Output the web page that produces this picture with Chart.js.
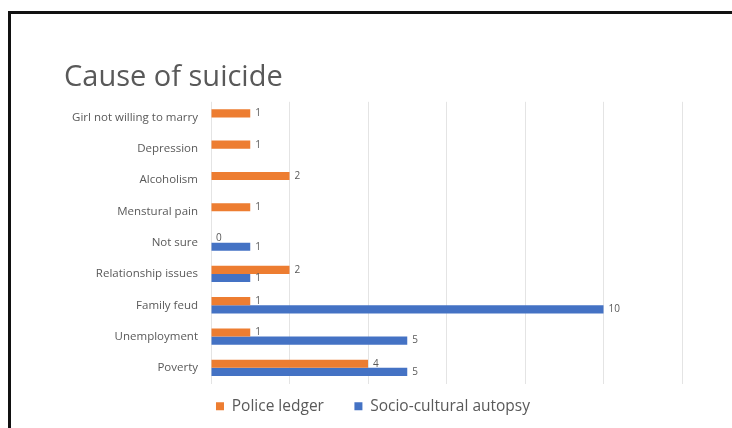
<!DOCTYPE html>
<html>
<head>
<meta charset="utf-8">
<script src="https://cdn.jsdelivr.net/npm/chart.js@4.4.0/dist/chart.umd.min.js"></script>
<style>
  html, body { margin: 0; padding: 0; background: #fff; overflow: hidden; }
  .frame {
    position: absolute; left: 8px; top: 11px;
    width: 740px; height: 430px;
    border: 3px solid #111;
    background: #fff;
  }
  canvas { display: block; }
</style>
</head>
<body>
<div class="frame">
  <canvas id="chart" width="721" height="414"></canvas>
</div>
<script>
// categories, top to bottom as in the picture
var causes = ['Girl not willing to marry', 'Depression', 'Alcoholism', 'Menstural pain', 'Not sure',
  'Relationship issues', 'Family feud', 'Unemployment', 'Poverty'];

// values
var policeLedger = [1, 1, 2, 1, 0, 2, 1, 1, 4];
var socioCultural = [null, null, null, null, 1, 1, 10, 5, 5];

var seriesNames = ['Police ledger', 'Socio-cultural autopsy'];
var xTicks = [0, 12, 2]; // min, max, step

// little plugin to write the value next to each bar (excel style data labels)
var valueLabels = {
  id: 'valueLabels',
  afterDatasetsDraw: function (chart) {
    var ctx = chart.ctx;
    ctx.save();
    ctx.font = '10px "Open Sans"';
    ctx.fillStyle = '#595959';
    ctx.textBaseline = 'middle';
    ctx.textAlign = 'left';
    chart.data.datasets.forEach(function (ds, i) {
      var meta = chart.getDatasetMeta(i);
      meta.data.forEach(function (bar, j) {
        var v = ds.data[j];
        if (v === null || v === undefined) return;
        ctx.fillText(String(v), bar.x + 5, bar.y);
      });
    });
    ctx.restore();
  }
};

var ctx = document.getElementById('chart');

var chart = new Chart(ctx, {
  type: 'bar',
  data: {
    labels: causes,
    datasets: [{
      label: seriesNames[0],
      backgroundColor: '#ED7D31',
      data: policeLedger
    }, {
      label: seriesNames[1],
      backgroundColor: '#4472C4',
      data: socioCultural
    }]
  },
  options: {
    indexAxis: 'y',
    responsive: false,
    animation: false,
    categoryPercentage: 0.52,
    barPercentage: 1,
    layout: { padding: { left: 53, right: 50, top: 46, bottom: 4 } },
    scales: {
      x: {
        min: xTicks[0],
        max: xTicks[1],
        ticks: { display: false, stepSize: xTicks[2] },
        grid: { color: '#e4e4e4', drawTicks: false },
        border: { display: false }
      },
      y: {
        grid: { display: false },
        border: { display: false },
        ticks: {
          color: '#595959',
          font: { family: 'Open Sans', size: 11.5 },
          padding: 5
        },
        afterFit: function (scale) { scale.width = 147; }
      }
    },
    plugins: {
      title: {
        display: true,
        text: 'Cause of suicide',
        align: 'start',
        color: '#595959',
        font: { family: 'Open Sans', size: 29, weight: 'normal' },
        padding: { top: 0, bottom: 7 }
      },
      legend: {
        position: 'bottom',
        labels: {
          color: '#595959',
          font: { family: 'Open Sans', size: 15.5 },
          boxWidth: 8,
          boxHeight: 8,
          padding: 15,
          // wider gap between the two entries, like excel
          generateLabels: function (chart) {
            var items = Chart.defaults.plugins.legend.labels.generateLabels(chart);
            items[0].text = items[0].text + '\u2002\u2002';
            return items;
          }
        }
      },
      tooltip: { enabled: false }
    }
  },
  plugins: [valueLabels]
});
</script>
</body>
</html>
